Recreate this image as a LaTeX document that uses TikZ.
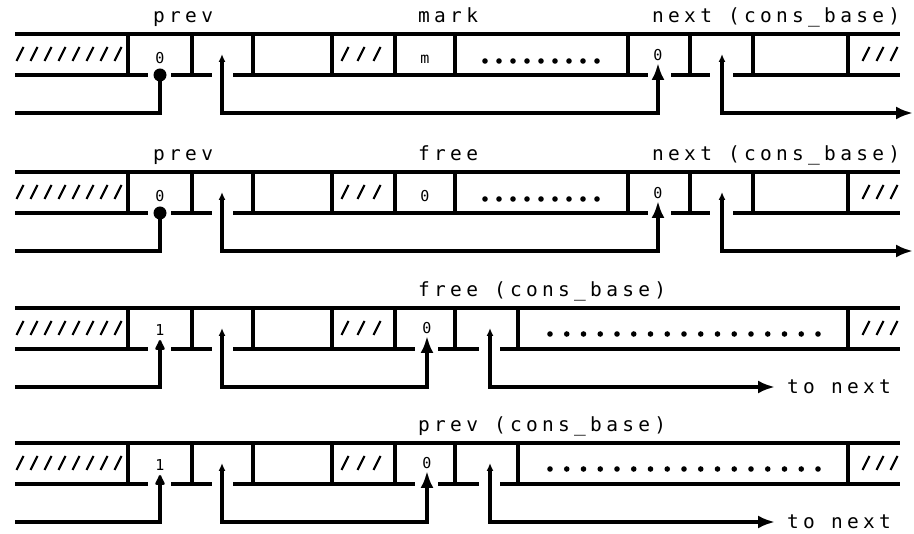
\documentclass[tikz,border=0pt]{standalone}
\usepackage{fontspec}
\newfontfamily\labfont[LetterSpace=22]{DejaVu Sans Mono}
\newfontfamily\valfont{DejaVu Sans Mono}
\usetikzlibrary{arrows.meta}
\tikzset{
  wall/.style={line width=3.8pt},
  divider/.style={line width=3.2pt},
  link/.style={line width=3.6pt},
  hatch/.style={line width=2.2pt},
  lab/.style={anchor=base west, inner sep=0pt, font=\labfont\fontsize{19.5}{22}\selectfont},
  val/.style={anchor=base, inner sep=0pt, font=\valfont\fontsize{15}{17}\selectfont},
  tipbig/.tip={Latex[length=17pt,width=13pt]},
  tipsmall/.tip={Latex[length=8pt,width=7pt]},
}
\newcommand\slashes[1]{\foreach \hx in {#1} \draw[hatch] (\hx-3.5,27) -- (\hx+3.5,13);}
% Row type A: #1 name, #2 top, #3 mid label, #4 mid value
\newcommand\rowA[4]{%
\begin{scope}[shift={(0,#2)}]
  \draw[wall] (15,0) -- (900,0);
  \draw[wall] (15,41) -- (148,41) (171,41) -- (212,41) (233,41) -- (648,41)
              (671,41) -- (710,41) (733,41) -- (900,41);
  \foreach \dx in {128,192,253,332,395,455,628,690,753,848} \draw[divider] (\dx,0) -- (\dx,41);
  \slashes{20,34,48,62,76,90,104,118}
  \slashes{345,361,377}
  \slashes{866,880,894}
  \node[val] (#1v1) at (160,30) {0};
  \node[val] (#1v2) at (425,30) {#4};
  \node[val] (#1v3) at (658,27) {0};
  \foreach \i in {0,...,8} \fill (485+14*\i,27) circle (2.8pt);
  \node[lab] (#1l1) at (153,-11) {prev};
  \node[lab] (#1l2) at (418,-11) {#3};
  \node[lab] (#1l3) at (652,-11) {next (cons\_base)};
  \coordinate (#1s) at (15,79);
  \coordinate (#1c1) at (160,41);
  \coordinate (#1p1) at (222,20);
  \coordinate (#1t1) at (658,79);
  \coordinate (#1c2) at (658,29);
  \coordinate (#1p2) at (722,20);
  \coordinate (#1e) at (913,79);
  \draw[link] (#1s) -| (#1c1);
  \fill (#1c1) circle (6.5pt);
  \draw[link,tipsmall-tipbig] (#1p1) |- (#1t1) -- (#1c2);
  \draw[link,tipsmall-tipbig] (#1p2) |- (#1e);
\end{scope}}
% Row type B: #1 name, #2 top, #3 label
\newcommand\rowB[3]{%
\begin{scope}[shift={(0,#2)}]
  \draw[wall] (15,0) -- (900,0);
  \draw[wall] (15,41) -- (148,41) (171,41) -- (212,41) (233,41) -- (415,41)
              (438,41) -- (479,41) (500,41) -- (900,41);
  \foreach \dx in {128,192,253,332,395,455,518,848} \draw[divider] (\dx,0) -- (\dx,41);
  \slashes{20,34,48,62,76,90,104,118}
  \slashes{345,361,377}
  \slashes{866,880,894}
  \node[val] (#1v1) at (160,28) {1};
  \node[val] (#1v2) at (427,26) {0};
  \foreach \i in {0,...,16} \fill (550+16.75*\i,26) circle (2.8pt);
  \node[lab] (#1l) at (418,-11) {#3};
  \coordinate (#1s) at (15,79);
  \coordinate (#1c1) at (160,32);
  \coordinate (#1p1) at (222,20);
  \coordinate (#1t1) at (427,79);
  \coordinate (#1c2) at (427,28);
  \coordinate (#1p2) at (490,20);
  \coordinate (#1e) at (775,79);
  \draw[link,-{Latex[round,length=13pt,width=12pt]}] (#1s) -| (#1c1);
  \draw[link,tipsmall-tipbig] (#1p1) |- (#1t1) -- (#1c2);
  \draw[link,tipsmall-tipbig] (#1p2) |- (#1e);
  \node[lab, anchor=west] (#1n) at (787,79) {to next};
\end{scope}}
\begin{document}
\begin{tikzpicture}[x=1pt,y=-1pt]
  \useasboundingbox (0,0) rectangle (914,534);
  \rowA{r1}{34}{mark}{m}
  \rowA{r2}{172}{free}{0}
  \rowB{r3}{308}{free (cons\_base)}
  \rowB{r4}{443}{prev (cons\_base)}
\end{tikzpicture}
\end{document}
